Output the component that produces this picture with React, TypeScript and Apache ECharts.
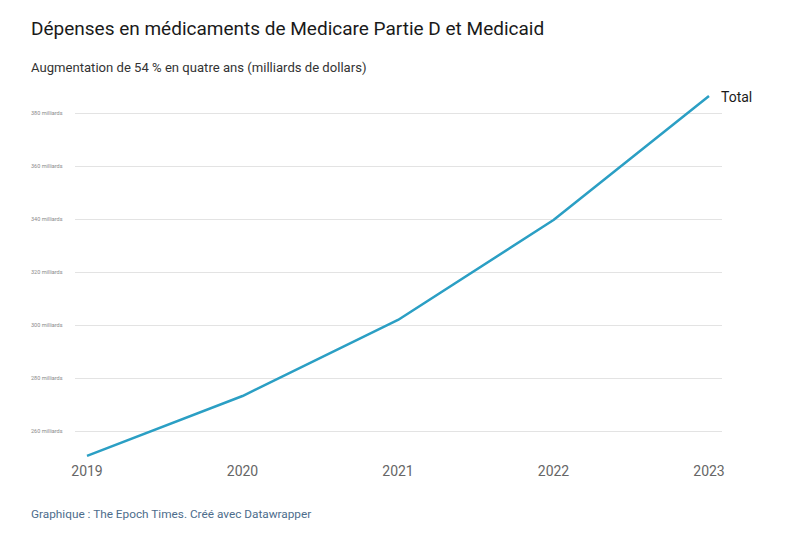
import React, { useEffect, useRef } from "react";
import * as echarts from "echarts";

const years = [2019, 2020, 2021, 2022, 2023];
const spending = [250.6, 273.2, 301.9, 339.6, 386.4];
const yTicks = [260, 280, 300, 320, 340, 360, 380];
const seriesName = "Total";

export default function App() {
  const ref = useRef<HTMLDivElement>(null);
  useEffect(() => {
    if (!ref.current) return;
    const chart = echarts.init(ref.current, null, { renderer: "svg" });
    chart.setOption({
      animation: false,
      backgroundColor: "#ffffff",
      textStyle: { fontFamily: "Roboto" },
      title: [
        {
          text: "Dépenses en médicaments de Medicare Partie D et Medicaid",
          left: 31,
          top: 19,
          padding: 0,
          textStyle: { fontSize: 19, fontWeight: "normal", color: "#1a1a1a", fontFamily: "Roboto" },
        },
        {
          text: "Augmentation de 54 % en quatre ans (milliards de dollars)",
          left: 31,
          top: 61,
          padding: 0,
          textStyle: { fontSize: 13.1, fontWeight: "normal", color: "#333333", fontFamily: "Roboto" },
        },
        {
          text: "Graphique : The Epoch Times. Créé avec Datawrapper",
          left: 31,
          top: 508,
          padding: 0,
          textStyle: { fontSize: 11.8, fontWeight: "normal", color: "#4d6d8c", fontFamily: "Roboto" },
        },
      ],
      grid: { left: 75, right: 75, top: 86.5, bottom: 53, containLabel: false },
      xAxis: {
        type: "value",
        min: 2019 - 12 / 155.5,
        max: 2023 + 13 / 155.5,
        axisLine: { show: false },
        axisTick: { show: false },
        splitLine: { show: false },
        axisLabel: {
          customValues: years,
          margin: -20,
          fontSize: 14,
          color: "#666666",
          fontFamily: "Roboto",
          formatter: (v: number) => String(Math.round(v)),
        },
      },
      yAxis: {
        type: "value",
        min: 240,
        max: 390,
        interval: 20,
        axisLine: { show: false },
        axisTick: { show: false },
        splitLine: {
          show: true,
          showMinLine: false,
          showMaxLine: false,
          lineStyle: { color: "#e3e3e3", width: 1 },
        },
        axisLabel: {
          showMinLabel: false,
          showMaxLabel: false,
          align: "left",
          margin: 44,
          fontSize: 5.5,
          color: "#8a8a8a",
          fontFamily: "Roboto",
          formatter: (v: number) => (yTicks.includes(v) ? `${v} milliards` : ""),
        },
      },
      series: [
        {
          name: seriesName,
          type: "line",
          data: years.map((y, i) => [y, spending[i]]),
          symbol: "none",
          lineStyle: { color: "#2b9fc4", width: 2.5 },
          endLabel: {
            show: true,
            formatter: seriesName,
            fontSize: 14,
            color: "#1a1a1a",
            fontFamily: "Roboto",
            distance: 12,
            offset: [0, 1],
          },
        },
      ],
    });
    return () => chart.dispose();
  }, []);
  return (
    <div
      ref={ref}
      style={{ position: "fixed", left: 0, top: 0, width: 797, height: 537 }}
    />
  );
}
